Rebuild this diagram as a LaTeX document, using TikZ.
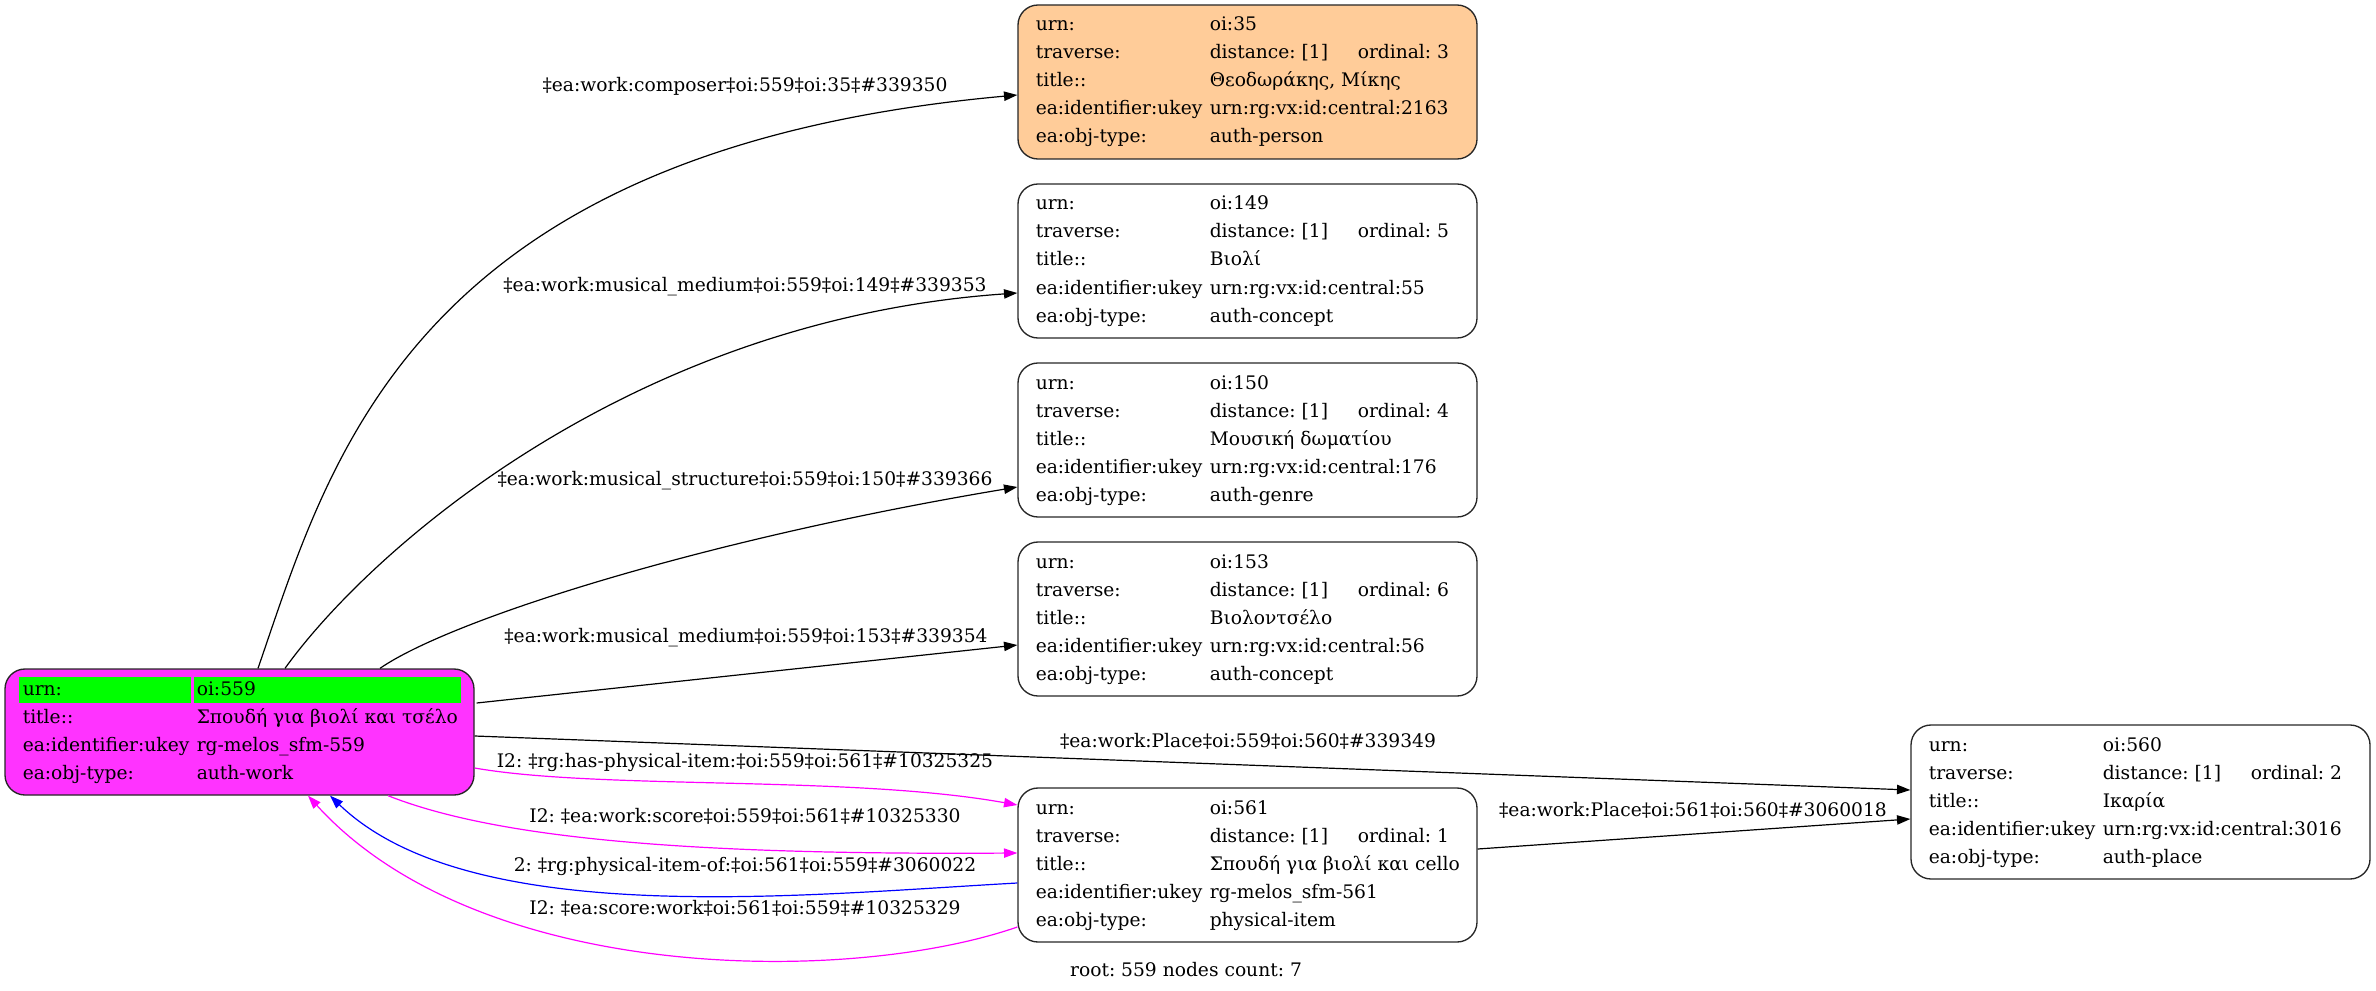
\documentclass[tikz,border=0pt]{standalone}
\usepackage{fontspec}
\setmainfont{DejaVu Serif}
\usetikzlibrary{arrows.meta,calc}
\frenchspacing
\definecolor{rootfill}{HTML}{FF33FF}
\definecolor{greencell}{HTML}{00FF00}
\definecolor{personfill}{HTML}{FFCC99}
\definecolor{edgemag}{HTML}{FF00FF}
\definecolor{edgeblue}{HTML}{0000FF}
\newlength\lw \setlength\lw{130.5pt}
\newlength\dw \setlength\dw{111pt}
\newcommand\rrow[5]{\node[rowtext] (#1) at (#2,#3) {\makebox[\lw][l]{#4}#5};}
\begin{document}
\begin{tikzpicture}[x=0.75pt,y=-0.75pt,
  font=\fontsize{14}{16}\selectfont\frenchspacing,
  recbox/.style={draw=black!85, line width=1pt, rounded corners=15pt, minimum width=344.25pt, minimum height=115.5pt, inner sep=0pt},
  rowtext/.style={anchor=base west, inner sep=0pt},
  elabel/.style={inner sep=0pt},
  conn/.style={line width=0.9pt, -{Triangle[length=10pt,width=7pt]}},
  ]
\useasboundingbox (0,0) rectangle (2376,991);

% ---------- boxes ----------
\node[recbox, fill=rootfill, minimum width=351.75pt, minimum height=94.5pt] (root) at (239.5,732) {};
\fill[greencell] (19,677) rectangle (191,703);
\fill[greencell] (194,677) rectangle (461,703);
\node[recbox, fill=personfill] (n35) at (1247.5,82) {};
\node[recbox] (n149) at (1247.5,261) {};
\node[recbox] (n150) at (1247.5,440) {};
\node[recbox] (n153) at (1247.5,619) {};
\node[recbox] (n561) at (1247.5,865) {};
\node[recbox] (n560) at (2140.5,802) {};

% ---------- root rows ----------
\rrow{r1}{22.5}{695}{urn:}{oi:559}
\rrow{r2}{22.5}{723}{title::}{Σπουδή για βιολί και τσέλο}
\rrow{r3}{22.5}{751}{ea:identifier:ukey}{rg-melos\_sfm-559}
\rrow{r4}{22.5}{779}{ea:obj-type:}{auth-work}

% ---------- oi:35 ----------
\rrow{a1}{1035.5}{31}{urn:}{oi:35}
\rrow{a2}{1035.5}{59}{traverse:}{\makebox[\dw][l]{distance: [1]}ordinal: 3}
\rrow{a3}{1035.5}{87}{title::}{Θεοδωράκης, Μίκης}
\rrow{a4}{1035.5}{115}{ea:identifier:ukey}{urn:rg:vx:id:central:2163}
\rrow{a5}{1035.5}{143}{ea:obj-type:}{auth-person}

% ---------- oi:149 ----------
\rrow{b1}{1035.5}{210}{urn:}{oi:149}
\rrow{b2}{1035.5}{238}{traverse:}{\makebox[\dw][l]{distance: [1]}ordinal: 5}
\rrow{b3}{1035.5}{266}{title::}{Βιολί}
\rrow{b4}{1035.5}{294}{ea:identifier:ukey}{urn:rg:vx:id:central:55}
\rrow{b5}{1035.5}{322}{ea:obj-type:}{auth-concept}

% ---------- oi:150 ----------
\rrow{c1}{1035.5}{389}{urn:}{oi:150}
\rrow{c2}{1035.5}{417}{traverse:}{\makebox[\dw][l]{distance: [1]}ordinal: 4}
\rrow{c3}{1035.5}{445}{title::}{Μουσική δωματίου}
\rrow{c4}{1035.5}{473}{ea:identifier:ukey}{urn:rg:vx:id:central:176}
\rrow{c5}{1035.5}{501}{ea:obj-type:}{auth-genre}

% ---------- oi:153 ----------
\rrow{d1}{1035.5}{568}{urn:}{oi:153}
\rrow{d2}{1035.5}{596}{traverse:}{\makebox[\dw][l]{distance: [1]}ordinal: 6}
\rrow{d3}{1035.5}{624}{title::}{Βιολοντσέλο}
\rrow{d4}{1035.5}{652}{ea:identifier:ukey}{urn:rg:vx:id:central:56}
\rrow{d5}{1035.5}{680}{ea:obj-type:}{auth-concept}

% ---------- oi:561 ----------
\rrow{e1}{1035.5}{814}{urn:}{oi:561}
\rrow{e2}{1035.5}{842}{traverse:}{\makebox[\dw][l]{distance: [1]}ordinal: 1}
\rrow{e3}{1035.5}{870}{title::}{Σπουδή για βιολί και cello}
\rrow{e4}{1035.5}{898}{ea:identifier:ukey}{rg-melos\_sfm-561}
\rrow{e5}{1035.5}{926}{ea:obj-type:}{physical-item}

% ---------- oi:560 ----------
\rrow{f1}{1928.5}{751}{urn:}{oi:560}
\rrow{f2}{1928.5}{779}{traverse:}{\makebox[\dw][l]{distance: [1]}ordinal: 2}
\rrow{f3}{1928.5}{807}{title::}{Ικαρία}
\rrow{f4}{1928.5}{835}{ea:identifier:ukey}{urn:rg:vx:id:central:3016}
\rrow{f5}{1928.5}{863}{ea:obj-type:}{auth-place}

% ---------- connectors ----------
\draw[conn] ($(root.north)+(18.5,0)$) .. controls (330,460) and (410,150) .. ($(n35.west)+(0,13)$);
\draw[conn] ($(root.north)+(45.5,0)$) .. controls (370,550) and (630,320) .. ($(n149.west)+(0,32)$);
\draw[conn] ($(root.north)+(140.5,0)$) .. controls (450,620) and (700,540) .. ($(n150.west)+(0,47)$);
\draw[conn] ($(root.east)+(2,-29)$) -- ($(n153.west)+(0,26)$);
\draw[conn] ($(root.east)+(0,4)$) -- ($(n560.west)+(0,-12)$);
\draw[conn] ($(n561.east)+(0,-16)$) -- ($(n560.west)+(0,17)$);
\draw[conn, edgemag] ($(root.east)+(0,36)$) .. controls (600,790) and (850,775) .. ($(n561.west)+(0,-60)$);
\draw[conn, edgemag] ($(root.south)+(148.5,0)$) .. controls (500,840) and (700,855) .. ($(n561.west)+(0,-12)$);
\draw[conn, edgeblue] ($(n561.west)+(0,18)$) .. controls (800,895) and (470,930) .. ($(root.south)+(90.5,0)$);
\draw[conn, edgemag] ($(n561.west)+(0,62)$) .. controls (850,985) and (480,985) .. ($(root.south)+(68.5,0)$);

% ---------- connector labels ----------
\node[elabel] (l1) at (745,86) {‡ea:work:composer‡oi:559‡oi:35‡\#339350};
\node[elabel] (l2) at (745,287) {‡ea:work:musical\_medium‡oi:559‡oi:149‡\#339353};
\node[elabel] (l3) at (745,481) {‡ea:work:musical\_structure‡oi:559‡oi:150‡\#339366};
\node[elabel] (l4) at (746,638) {‡ea:work:musical\_medium‡oi:559‡oi:153‡\#339354};
\node[elabel] (l5) at (1248,741) {‡ea:work:Place‡oi:559‡oi:560‡\#339349};
\node[elabel] (l6) at (1693,810) {‡ea:work:Place‡oi:561‡oi:560‡\#3060018};
\node[elabel] (l7) at (745,762) {I2: ‡rg:has-physical-item:‡oi:559‡oi:561‡\#10325325};
\node[elabel] (l8) at (745,816) {I2: ‡ea:work:score‡oi:559‡oi:561‡\#10325330};
\node[elabel] (l9) at (745,866) {2: ‡rg:physical-item-of:‡oi:561‡oi:559‡\#3060022};
\node[elabel] (l10) at (745,908) {I2: ‡ea:score:work‡oi:561‡oi:559‡\#10325329};

\node[elabel] (footer) at (1186,970) {root: 559 nodes count: 7};
\end{tikzpicture}
\end{document}
